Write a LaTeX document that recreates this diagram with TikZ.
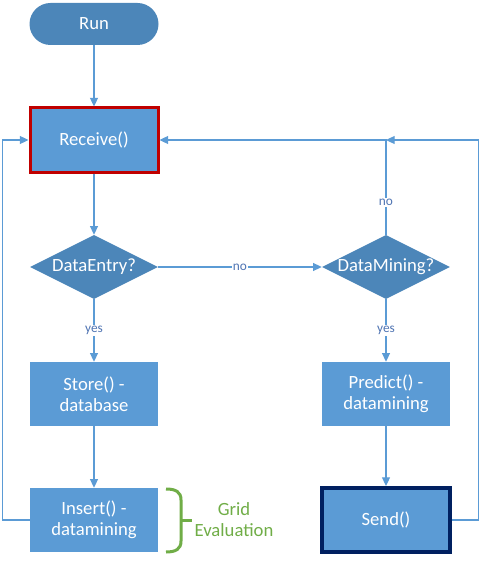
\documentclass[tikz,border=0pt]{standalone}
\usepackage{fontspec}
\setmainfont{Carlito}
\usetikzlibrary{shapes.geometric,arrows.meta}
\definecolor{boxblue}{HTML}{5B9BD5}
\definecolor{darkblue}{HTML}{4C86B9}
\definecolor{linkblue}{HTML}{5B9BD5}
\definecolor{lblblue}{HTML}{4F74B3}
\definecolor{redborder}{HTML}{C00000}
\definecolor{navyborder}{HTML}{002060}
\definecolor{gridgreen}{HTML}{70AD47}
\begin{document}
\begin{tikzpicture}[x=0.75pt,y=-0.75pt,
  every node/.style={font=\fontsize{14}{15.75}\selectfont},
  procbox/.style={rectangle, fill=boxblue, text=white, minimum width=96pt, minimum height=48pt, inner sep=0pt, align=center},
  startbox/.style={rectangle, rounded corners=15.75pt, fill=darkblue, text=white, minimum width=96.75pt, minimum height=31.5pt, inner sep=0pt},
  decision/.style={diamond, fill=darkblue, text=white, minimum width=96pt, minimum height=48pt, inner sep=0pt},
  link/.style={draw=linkblue, line width=0.8pt, -{Triangle[length=6.5pt,width=6pt]}},
  lbl/.style={fill=white, text=lblblue, font=\fontsize{10}{11}\selectfont, inner sep=1pt}]
\useasboundingbox (0,0) rectangle (480,563);

\node[startbox] (run) at (94,24) {Run};
\node[procbox, draw=redborder, line width=2.25pt] (rec) at (94,140) {Receive()};
\node[decision] (de) at (94,267) {\makebox[0pt]{DataEntry?}};
\node[decision] (dm) at (386,267) {\makebox[0pt]{DataMining?}};
\node[procbox] (store) at (94,394) {Store() -\\database};
\node[procbox] (ins) at (94,520) {Insert() -\\datamining};
\node[procbox] (pred) at (386,394) {Predict() -\\datamining};
\node[procbox, draw=navyborder, line width=3pt] (send) at (386,520) {Send()};
\node[text=gridgreen, align=center] (grid) at (234,520) {Grid\\Evaluation};

\coordinate (j) at (dm.north |- rec.east);

\draw[link] (run) -- (rec);
\draw[link] (rec) -- (de);
\draw[link] (de) -- node[lbl]{no} (dm);
\draw[link] (de) -- node[lbl]{yes} (store);
\draw[link] (dm) -- node[lbl]{yes} (pred);
\draw[link] (store) -- (ins);
\draw[link] (pred) -- (send);
\draw[link] (ins.west) -- ++(-27.5,0) |- (rec.west);
\draw[link] (send.east) -- ++(26.5,0) |- (j);
\draw[link] (dm.north) -- node[lbl,pos=0.34]{no} (j) -- (rec.east);

\draw[gridgreen, line width=2.25pt] (166,489) .. controls (176,489) and (181,492) .. (181,500) -- (181,541) .. controls (181,549) and (176,552) .. (166,552);
\draw[gridgreen, line width=2.25pt] (181,520) -- (192,520);
\end{tikzpicture}
\end{document}
